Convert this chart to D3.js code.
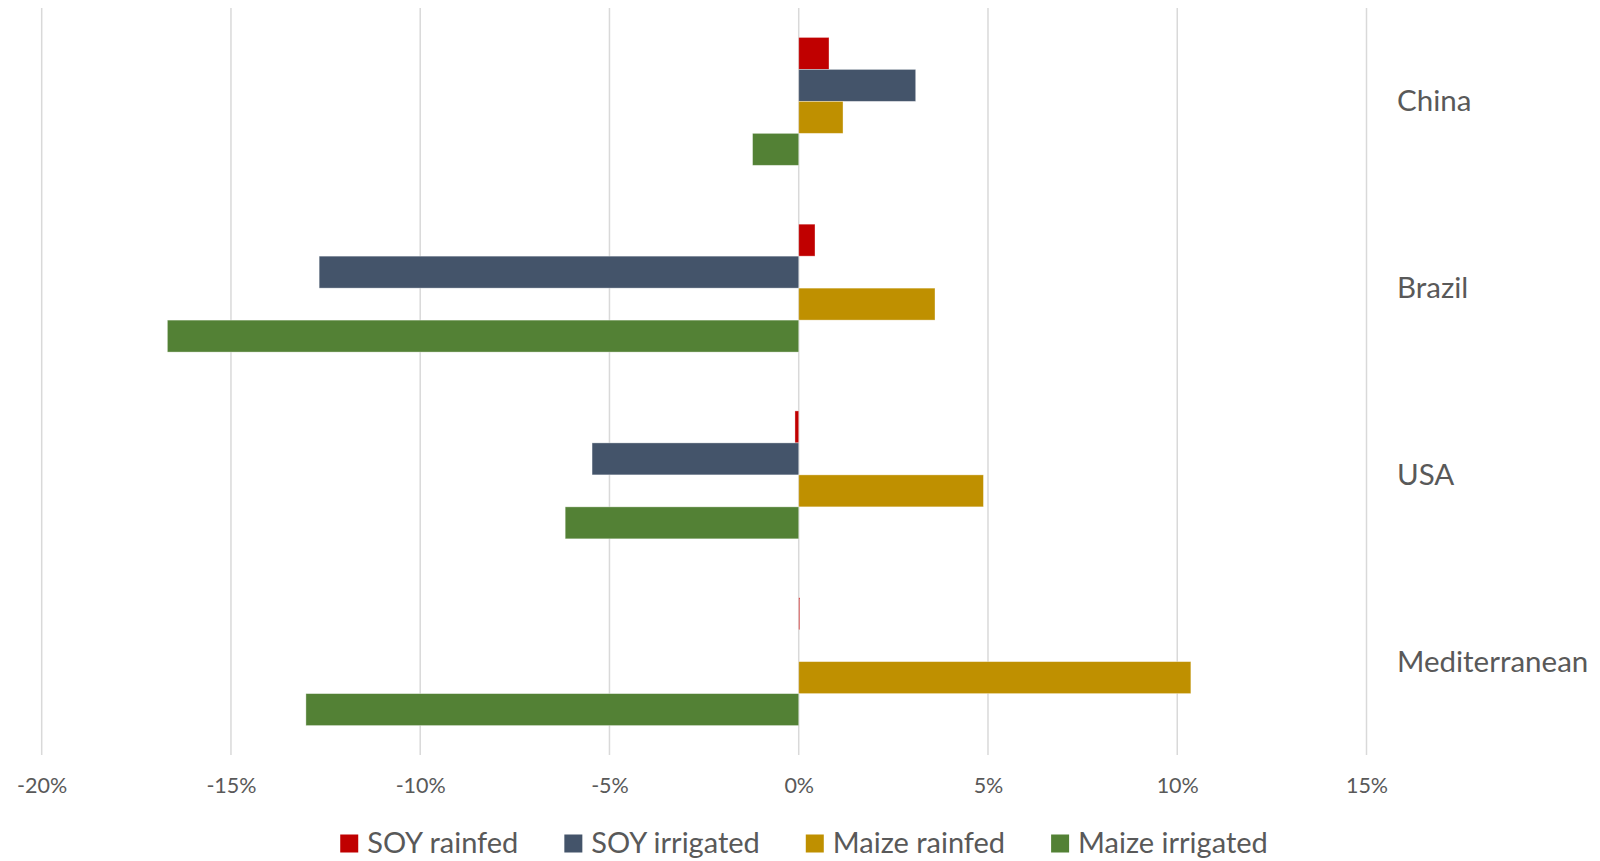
<!DOCTYPE html>
<html>
<head>
<meta charset="utf-8">
<script src="https://cdn.jsdelivr.net/npm/d3@7"></script>
<style>
  html, body { margin: 0; padding: 0; background: #fff; }
  svg { display: block; }
  text { font-family: Lato, "Open Sans", sans-serif; fill: #595959; }
</style>
</head>
<body>
<svg id="chart" width="1600" height="861"></svg>
<script>
// ---- data ----
const categories = ["China", "Brazil", "USA", "Mediterranean"];
const seriesNames = ["SOY rainfed", "SOY irrigated", "Maize rainfed", "Maize irrigated"];
const soyRainfed     = [0.80, 0.43, -0.10, 0.02];
const soyIrrigated   = [3.09, -12.67, -5.46, 0.00];
const maizeRainfed   = [1.17, 3.60, 4.88, 10.36];
const maizeIrrigated = [-1.22, -16.68, -6.17, -13.02];
const tickValues = [-20, -15, -10, -5, 0, 5, 10, 15];
const seriesColors = ["#C00000", "#44546A", "#BF9000", "#538135"];

const seriesValues = [soyRainfed, soyIrrigated, maizeRainfed, maizeIrrigated];

const svg = d3.select("#chart");

const x = d3.scaleLinear().domain([-20, 15]).range([41.7, 1366.5]);
const y = d3.scaleBand().domain(categories).range([8, 755])
  .paddingInner(0.315).paddingOuter(0.1575);
const ySub = d3.scaleBand().domain(seriesNames).range([0, y.bandwidth()]);
const color = d3.scaleOrdinal().domain(seriesNames).range(seriesColors);

// gridlines
svg.append("g").selectAll("line").data(tickValues).join("line")
  .attr("x1", d => x(d)).attr("x2", d => x(d))
  .attr("y1", 8).attr("y2", 755)
  .attr("stroke", "#D9D9D9").attr("stroke-width", 1.5);

// x axis labels
const xAxis = d3.axisBottom(x).tickValues(tickValues)
  .tickFormat(d => (d < 0 ? "-" + Math.abs(d) : d) + "%")
  .tickSize(0).tickPadding(0);
const gx = svg.append("g").attr("transform", "translate(0,755)").call(xAxis);
gx.select(".domain").remove();
gx.selectAll("text")
  .attr("y", 38).attr("dy", 0)
  .style("font-size", "21.5px")
  .style("font-family", "Lato, 'Open Sans', sans-serif")
  .attr("fill", "#595959");

// bars
const rows = [];
categories.forEach((c, ci) => {
  seriesNames.forEach((s, si) => {
    rows.push({ cat: c, series: s, value: seriesValues[si][ci] });
  });
});
svg.append("g").selectAll("rect").data(rows).join("rect")
  .attr("x", d => x(Math.min(0, d.value)))
  .attr("width", d => Math.max(Math.abs(x(d.value) - x(0)), d.value !== 0 ? 1 : 0))
  .attr("y", d => y(d.cat) + ySub(d.series))
  .attr("height", ySub.bandwidth())
  .attr("fill", d => color(d.series))
  .attr("stroke", "#ffffff").attr("stroke-opacity", 0.45).attr("stroke-width", 0.8);

// category labels (right side)
svg.append("g").selectAll("text").data(categories).join("text")
  .attr("x", 1397)
  .attr("y", d => y(d) + y.bandwidth() / 2 + 10)
  .style("font-size", "29.5px")
  .text(d => d);

// legend
const legend = svg.append("g");
const items = legend.selectAll("g").data(seriesNames).join("g");
items.append("rect").attr("width", 18).attr("height", 18)
  .attr("y", -18.5).attr("fill", d => color(d));
items.append("text").attr("x", 27).attr("y", 0)
  .style("font-size", "29px").text(d => d);
let xpos = 0;
const gap = 46;
items.each(function () {
  const w = 27 + this.querySelector("text").getComputedTextLength();
  d3.select(this).attr("transform", `translate(${xpos},0)`);
  xpos += w + gap;
});
const total = xpos - gap;
legend.attr("transform", `translate(${804 - total / 2},853)`);
</script>
</body>
</html>
